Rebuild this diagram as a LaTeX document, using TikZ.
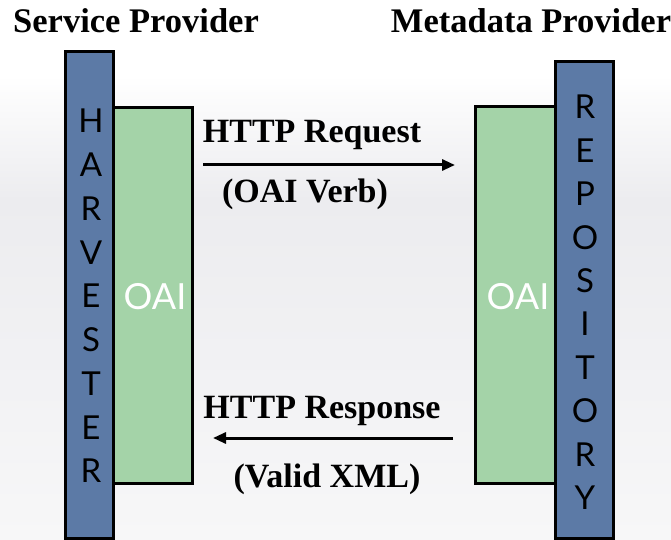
\documentclass[tikz,border=0pt]{standalone}
\usepackage{fontspec}
\setmainfont{Liberation Serif}
\newfontfamily\barfont{Lato}
\usetikzlibrary{arrows.meta,positioning,calc}
\definecolor{barblue}{RGB}{92,122,166}
\definecolor{oaigreen}{RGB}{164,211,168}
\definecolor{bgmid}{RGB}{236,236,239}
\definecolor{bgbot}{RGB}{247,247,248}
\begin{document}
\begin{tikzpicture}[x=1pt, y=-1pt,
        bar/.style={draw=black, line width=3pt, fill=barblue},
        oai/.style={draw=black, line width=3pt, fill=oaigreen},
        letter/.style={font=\barfont\fontsize{33}{33}\selectfont, inner sep=0pt},
        oaitext/.style={font=\barfont\fontsize{36}{36}\selectfont, text=white, inner sep=0pt},
        title/.style={font=\bfseries\fontsize{34.5}{38}\selectfont, anchor=base, inner sep=0pt},
        msgtext/.style={font=\bfseries\fontsize{34}{38}\selectfont, anchor=base, inner sep=0pt},
        msg/.style={line width=3pt, -{Triangle[length=13pt,width=11pt]}}]
        \useasboundingbox (0,0) rectangle (671,540);
        % Background
        \fill [white] (0,0) rectangle (671,75);
        \shade [top color=white, bottom color=bgmid] (0,75) rectangle (671,200);
        \shade [top color=bgmid, bottom color=bgbot] (0,199.5) rectangle (671,540);
        % Titles
        \node [title] (sp) at (136,33) {Service Provider};
        \node [title] (mp) at (531,33) {Metadata Provider};
        % OAI boxes
        \filldraw [oai] (113,108) rectangle (192,483);
        \filldraw [oai] (475,107) rectangle (555,483);
        \node [oaitext] (oaiL) at (155,297) {OAI};
        \node [oaitext] (oaiR) at (518,297) {OAI};
        % Bars
        \filldraw [bar] (65,52) rectangle (113,538);
        \filldraw [bar] (555,62) rectangle (613,538);
        \foreach \l [count=\i] in {H,A,R,V,E,S,T,E,R}
        {
        \node [letter] (h\i) at (91,121+43.75*\i-43.75) {\l};
        }
        \foreach \l [count=\i] in {R,E,P,O,S,I,T,O,R,Y}
        {
        \node [letter] (r\i) at (585,107+43.4*\i-43.4) {\l};
        }
        % Messages
        \coordinate (reqA) at (203,165);
        \coordinate (reqB) at (455,165);
        \coordinate (resA) at (453,438);
        \coordinate (resB) at (213,438);
        \draw [msg] (reqA) -- (reqB);
        \draw [msg] (resA) -- (resB);
        % Labels
        \node [msgtext] (req) at (312,143) {HTTP Request};
        \node [msgtext] (verb) at (305,202) {(OAI Verb)};
        \node [msgtext] (res) at (322,418) {HTTP Response};
        \node [msgtext] (xml) at (327,487) {(Valid XML)};
\end{tikzpicture}
\end{document}
